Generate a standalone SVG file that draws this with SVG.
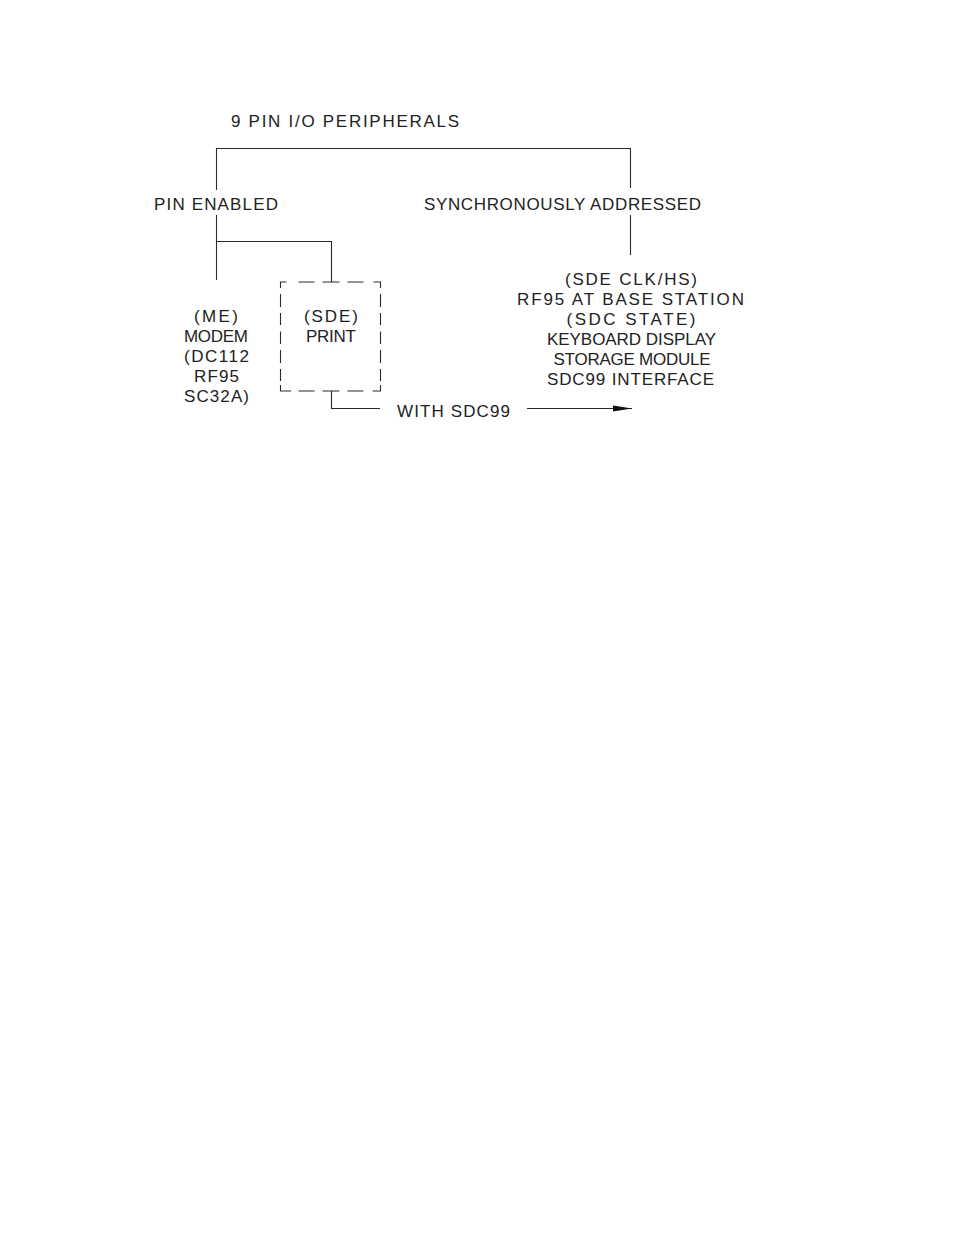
<svg xmlns="http://www.w3.org/2000/svg" width="954" height="1235" viewBox="0 0 954 1235">
<defs>
<style>
.t{font-family:"Liberation Sans",Arial,sans-serif;font-size:17px;fill:#222}
.c{text-anchor:middle}
.ln{fill:none;stroke:#2a2a2a;stroke-width:1.1}
</style>
<marker id="arr" markerWidth="20" markerHeight="8" refX="19" refY="4" orient="auto" markerUnits="userSpaceOnUse">
<polygon points="0,1 19,4 0,7" fill="#111"/>
</marker>
</defs>
<rect width="954" height="1235" fill="#fff"/>

<g id="connectors" class="ln">
<path d="M216.5,190 V148.5 H630.5 V188"/>
<path d="M216.5,215 V280"/>
<path d="M216.5,241.5 H331.5 V282"/>
<path d="M630.5,215 V255"/>
<path d="M331.5,391 V408.5 H380"/>
<path d="M527,408.5 H632" marker-end="url(#arr)"/>
</g>

<g id="title">
<text class="t" x="231" y="127" textLength="228" lengthAdjust="spacing">9 PIN I/O PERIPHERALS</text>
</g>

<g id="pin-enabled">
<text class="t" x="154" y="209.5" textLength="124" lengthAdjust="spacing">PIN ENABLED</text>
</g>

<g id="synchronously-addressed">
<text class="t" x="424" y="209.5" textLength="277" lengthAdjust="spacing">SYNCHRONOUSLY ADDRESSED</text>
</g>

<g id="modem">
<text class="t c" x="216" y="322" textLength="44" lengthAdjust="spacing">(ME)</text>
<text class="t c" x="216" y="342" textLength="64" lengthAdjust="spacing">MODEM</text>
<text class="t c" x="216.5" y="362" textLength="65" lengthAdjust="spacing">(DC112</text>
<text class="t c" x="216.5" y="382" textLength="45" lengthAdjust="spacing">RF95</text>
<text class="t c" x="216.5" y="402" textLength="65" lengthAdjust="spacing">SC32A)</text>
</g>

<g id="print">
<path class="ln" d="M280.5,288 V282 H286.5 M298.5,282 H314.5 M322.5,282 H339.5 M347.5,282 H363.5 M373.5,282 H380.5 V288 M280.5,294 V307 M280.5,313 V325 M280.5,331.5 V344 M280.5,350 V363 M280.5,369 V381 M380.5,294 V307 M380.5,313 V325 M380.5,331.5 V344 M380.5,350 V363 M380.5,369 V381 M280.5,385 V391 H291 M298.5,391 H314.5 M322.5,391 H339.5 M347.5,391 H363.5 M372.5,391 H380.5 V385"/>
<text class="t c" x="331" y="322" textLength="54" lengthAdjust="spacing">(SDE)</text>
<text class="t c" x="331" y="342" textLength="50" lengthAdjust="spacing">PRINT</text>
</g>

<g id="base-station">
<text class="t c" x="631" y="284.5" textLength="132" lengthAdjust="spacing">(SDE CLK/HS)</text>
<text class="t c" x="630.5" y="304.5" textLength="227" lengthAdjust="spacing">RF95 AT BASE STATION</text>
<text class="t c" x="631" y="324.5" textLength="129" lengthAdjust="spacing">(SDC STATE)</text>
<text class="t c" x="631.5" y="344.5" textLength="169" lengthAdjust="spacing">KEYBOARD DISPLAY</text>
<text class="t c" x="632" y="364.5" textLength="157" lengthAdjust="spacing">STORAGE MODULE</text>
<text class="t c" x="630.5" y="384.5" textLength="167" lengthAdjust="spacing">SDC99 INTERFACE</text>
</g>

<g id="with-sdc99">
<text class="t" x="397" y="417" textLength="113" lengthAdjust="spacing">WITH SDC99</text>
</g>
</svg>
